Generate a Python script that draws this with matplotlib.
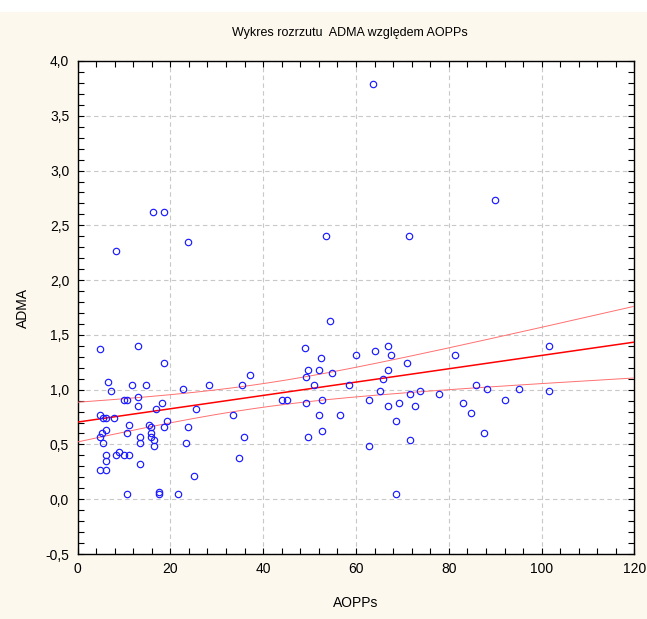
import numpy as np
import matplotlib
matplotlib.use("Agg")
import matplotlib.pyplot as plt
from matplotlib.ticker import MultipleLocator, FuncFormatter

# AOPPs (x) and ADMA (y) measurements
aopps = [
    4.74, 12.97, 18.7, 6.64, 7.2, 11.7, 14.7, 22.7, 28.3, 10.0, 10.6, 12.97, 12.97,
    18.1, 17.0, 25.6, 4.85, 5.6, 6.1, 7.8, 11.2, 15.3, 15.8, 19.3, 18.7, 6.1, 5.35,
    4.8, 5.5, 10.7, 15.8, 15.8, 13.5, 13.5, 16.4, 16.4, 23.8, 23.3, 6.1, 6.1, 8.4,
    8.9, 10.1, 11.2, 13.5, 4.85, 6.1, 25.0, 10.7, 17.6, 17.6, 21.6,
    16.3, 18.7, 8.3, 23.8, 53.5, 71.4, 89.9, 63.6,
    54.3, 49.1, 52.5, 60.1, 64.0, 67.0, 67.5, 35.4, 37.1, 49.7, 49.2, 52.0, 54.9,
    50.9, 58.4, 67.0, 65.8, 65.2, 44.0, 45.1, 49.2, 52.6, 62.9, 67.0, 69.2, 33.6,
    52.0, 56.6, 68.7, 35.9, 49.7, 52.6, 34.8, 62.9, 68.7,
    71.0, 81.3, 101.5, 71.6, 73.8, 77.9, 72.7, 71.6, 83.0, 84.8, 85.9, 88.2, 87.6,
    92.2, 95.1, 101.5,
]
adma = [
    1.37, 1.40, 1.24, 1.07, 0.99, 1.04, 1.04, 1.01, 1.04, 0.905, 0.905, 0.93, 0.85,
    0.88, 0.82, 0.82, 0.765, 0.74, 0.74, 0.74, 0.68, 0.68, 0.655, 0.71, 0.655, 0.63, 0.60,
    0.57, 0.515, 0.60, 0.60, 0.57, 0.57, 0.515, 0.545, 0.49, 0.655, 0.515, 0.405, 0.35, 0.405,
    0.435, 0.405, 0.405, 0.32, 0.265, 0.265, 0.21, 0.045, 0.07, 0.045, 0.045,
    2.62, 2.62, 2.27, 2.35, 2.40, 2.40, 2.735, 3.79,
    1.63, 1.376, 1.29, 1.32, 1.35, 1.40, 1.32, 1.04, 1.13, 1.18, 1.12, 1.18, 1.15,
    1.04, 1.04, 1.18, 1.10, 0.99, 0.905, 0.905, 0.875, 0.905, 0.905, 0.85, 0.875, 0.765,
    0.765, 0.765, 0.71, 0.57, 0.57, 0.625, 0.375, 0.49, 0.045,
    1.24, 1.32, 1.40, 0.96, 0.99, 0.96, 0.85, 0.54, 0.875, 0.79, 1.04, 1.01, 0.60,
    0.905, 1.01, 0.99,
]
x_ticks = [0, 20, 40, 60, 80, 100, 120]
y_ticks = [-0.5, 0.0, 0.5, 1.0, 1.5, 2.0, 2.5, 3.0, 3.5, 4.0]

x = np.asarray(aopps, dtype=float)
y = np.asarray(adma, dtype=float)

# least-squares line with 95% confidence band for the mean
n = len(x)
slope, intercept = np.polyfit(x, y, 1)
resid = y - (intercept + slope * x)
s = np.sqrt(np.sum(resid ** 2) / (n - 2))
sxx = np.sum((x - x.mean()) ** 2)
t_crit = 1.98
xs = np.linspace(0, 120, 300)
fit = intercept + slope * xs
half = t_crit * s * np.sqrt(1.0 / n + (xs - x.mean()) ** 2 / sxx)

bg = "#fdf8ee"
fig = plt.figure(figsize=(6.47, 6.19), dpi=100, facecolor=bg)
fig.patches.append(plt.Rectangle((0, 1 - 12 / 619), 1, 12 / 619, transform=fig.transFigure,
                                 facecolor="white", edgecolor="none", zorder=-1))
ax = fig.add_axes([77.5 / 647, 1 - 554 / 619, (634.5 - 77.5) / 647, (554 - 61) / 619])
ax.set_facecolor("white")

font = "Liberation Sans"
ax.grid(True, which="major", color="#c8c8c8", linestyle=(0, (4, 3)), linewidth=0.8)
ax.set_axisbelow(True)

ax.plot(xs, fit, color="#ff0000", linewidth=1.1, zorder=3)
ax.plot(xs, fit + half, color="#ff7070", linewidth=0.7, zorder=3)
ax.plot(xs, fit - half, color="#ff7070", linewidth=0.7, zorder=3)
ax.plot(x, y, linestyle="none", marker="o", markersize=4.6, markerfacecolor="none",
        markeredgecolor="#1a1aff", markeredgewidth=0.85, zorder=4)

ax.set_xlim(0, 120)
ax.set_ylim(-0.5, 4.0)
ax.set_xticks(x_ticks)
ax.set_yticks(y_ticks)
ax.xaxis.set_minor_locator(MultipleLocator(4))
ax.yaxis.set_minor_locator(MultipleLocator(0.1))
ax.yaxis.set_major_formatter(FuncFormatter(lambda v, p: f"{v:.1f}".replace(".", ",")))
ax.tick_params(which="both", direction="in", top=True, right=True, length=4, width=0.8,
               labelsize=10, pad=6)
for lab in ax.get_xticklabels() + ax.get_yticklabels():
    lab.set_fontfamily(font)
for sp in ax.spines.values():
    sp.set_linewidth(1.0)

ax.set_xlabel("AOPPs", fontsize=10, fontfamily=font, labelpad=14)
ax.set_ylabel("ADMA", fontsize=10, fontfamily=font, labelpad=11)
fig.text(350 / 647, 1 - 33 / 619, "Wykres rozrzutu  ADMA względem AOPPs", ha="center",
         va="center", fontsize=9, fontfamily=font)

fig.savefig("out.png", dpi=100, facecolor=bg)
